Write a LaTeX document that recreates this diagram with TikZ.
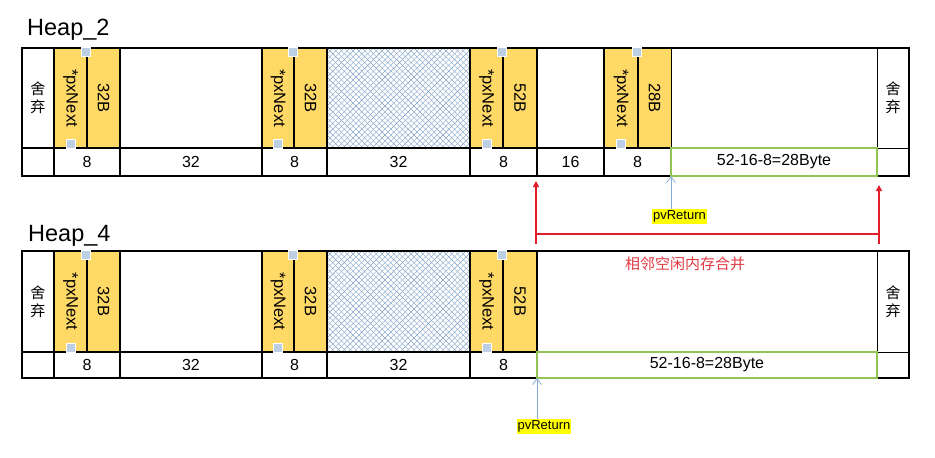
\documentclass[tikz,border=0pt]{standalone}
\usepackage{fontspec}
\setmainfont{Liberation Sans}
\newfontfamily\cjk{Noto Sans CJK SC}
\usetikzlibrary{arrows.meta}
\definecolor{yel}{RGB}{255,217,102}
\definecolor{sqblue}{RGB}{189,207,228}
\definecolor{hatchc}{RGB}{125,158,198}
\definecolor{grn}{RGB}{146,196,84}
\definecolor{redc}{RGB}{226,30,44}
\definecolor{redt}{RGB}{226,56,66}
\definecolor{arrblue}{RGB}{135,172,215}
\definecolor{hl}{RGB}{255,255,0}
\newcommand{\cellnode}[7][]{%
  \node[cellbase,#1,minimum width={(#5-#3)*1pt},minimum height={(#6-#4)*1pt}] (#2) at ({(#3+#5)/2},{(#4+#6)/2}) {#7};}
\newcommand{\xhatch}[1]{%
  \begin{scope}
    \clip (#1.south west) rectangle (#1.north east);
    \foreach \k in {-20,...,45}{%
      \draw[hatchline] ([xshift=\k*5.8pt]#1.north west) -- ++(110,110);
      \draw[hatchline] ([xshift=\k*5.8pt]#1.north west) -- ++(-110,110);}
  \end{scope}}
\tikzset{
  cellbase/.style={draw,inner sep=0pt,outer sep=0pt,line width=1.8pt,align=center,font=\fontsize{16}{18}\selectfont},
  thincell/.style={line width=0.8pt},
  yelcell/.style={fill=yel},
  hatchline/.style={draw=hatchc,line width=0.4pt},
  greencell/.style={draw=grn,line width=1.6pt},
  discard/.style={font=\cjk\fontsize{15}{18}\selectfont},
  vtext/.style={rotate=-90,inner sep=0pt,font=\fontsize{16.5}{18}\selectfont},
  sq/.style={fill=sqblue,draw=white,line width=0.7pt,minimum size=9pt,inner sep=0pt,outer sep=0pt},
  frame/.style={draw,line width=2.2pt},
  title/.style={font=\fontsize{23.5}{26}\selectfont,inner sep=0pt,anchor=base west},
  pvlab/.style={fill=hl,inner xsep=1pt,inner ysep=1.5pt,font=\fontsize{13}{15}\selectfont},
  bluearr/.style={draw=arrblue,line width=0.8pt,-{Straight Barb[length=6pt,width=9pt]}},
  redarr/.style={draw=redc,line width=2pt,-{Triangle[length=6pt,width=6pt]}},
  redline/.style={draw=redc,line width=2pt},
  redtxt/.style={text=redt,font=\cjk\fontsize{15}{18}\selectfont,inner sep=0pt}
}
\begin{document}
\begin{tikzpicture}[x=1pt,y=-1pt]
\useasboundingbox (0,0) rectangle (935,458);
% ================= Heap_2 =================
\node[title] (t1) at (27,35) {Heap\_2};
\cellnode[draw=none]{a-hbg}{327}{48}{470}{148}{}
\xhatch{a-hbg}
% top row
\cellnode[discard]{a-d1}{22}{48}{54}{148}{舍\\弃}
\cellnode[yelcell]{a-px1}{54}{48}{87}{148}{}
\cellnode[yelcell]{a-s1}{87}{48}{120}{148}{}
\cellnode{a-w1}{120}{48}{262}{148}{}
\cellnode[yelcell]{a-px2}{262}{48}{294}{148}{}
\cellnode[yelcell]{a-s2}{294}{48}{327}{148}{}
\cellnode{a-h1}{327}{48}{470}{148}{}
\cellnode[yelcell]{a-px3}{470}{48}{503}{148}{}
\cellnode[yelcell]{a-s3}{503}{48}{537}{148}{}
\cellnode{a-w2}{537}{48}{604}{148}{}
\cellnode[yelcell]{a-px4}{604}{48}{638}{148}{}
\cellnode[yelcell,thincell]{a-s4}{638}{48}{671}{148}{}
\cellnode[thincell]{a-w3}{671}{48}{877}{148}{}
\cellnode[thincell,discard]{a-d2}{877}{48}{909}{148}{舍\\弃}
% bottom row
\cellnode{a-e1}{22}{148}{54}{176}{}
\cellnode{a-n1}{54}{148}{120}{176}{8}
\cellnode{a-n2}{120}{148}{262}{176}{32}
\cellnode{a-n3}{262}{148}{327}{176}{8}
\cellnode{a-n4}{327}{148}{470}{176}{32}
\cellnode{a-n5}{470}{148}{537}{176}{8}
\cellnode{a-n6}{537}{148}{604}{176}{16}
\cellnode{a-n7}{604}{148}{671}{176}{8}
\cellnode[thincell]{a-e2}{877}{148}{909}{176}{}
\draw[frame] (a-d1.north west) rectangle (a-e2.south east);
\cellnode[greencell]{a-n8}{671}{148}{877}{176}{52-16-8=28Byte}
% vertical texts
\node[vtext] (a-v1) at (a-px1.center) {*pxNext};
\node[vtext] (a-v2) at (a-s1.center) {32B};
\node[vtext] (a-v3) at (a-px2.center) {*pxNext};
\node[vtext] (a-v4) at (a-s2.center) {32B};
\node[vtext] (a-v5) at (a-px3.center) {*pxNext};
\node[vtext] (a-v6) at (a-s3.center) {52B};
\node[vtext] (a-v7) at (a-px4.center) {*pxNext};
\node[vtext] (a-v8) at (a-s4.center) {28B};
% squares
\node[sq] (a-q1) at (86,52) {};
\node[sq] (a-q2) at (70.5,143.5) {};
\node[sq] (a-q3) at (293,52) {};
\node[sq] (a-q4) at (278,143.5) {};
\node[sq] (a-q5) at (502,52) {};
\node[sq] (a-q6) at (486.5,143.5) {};
\node[sq] (a-q7) at (637,52) {};
\node[sq] (a-q8) at (621,143.5) {};
% pvReturn
\node[pvlab] (pv1) at (679.5,216.5) {pvReturn};
\draw[bluearr] (pv1.north -| a-n8.south west) -- (a-n8.south west);
% ================= Heap_4 =================
\node[title] (t2) at (28,241) {Heap\_4};
\cellnode[draw=none]{b-hbg}{327}{251}{470}{352}{}
\xhatch{b-hbg}
\cellnode[discard]{b-d1}{22}{251}{54}{352}{舍\\弃}
\cellnode[yelcell]{b-px1}{54}{251}{87}{352}{}
\cellnode[yelcell]{b-s1}{87}{251}{120}{352}{}
\cellnode{b-w1}{120}{251}{262}{352}{}
\cellnode[yelcell]{b-px2}{262}{251}{294}{352}{}
\cellnode[yelcell]{b-s2}{294}{251}{327}{352}{}
\cellnode{b-h1}{327}{251}{470}{352}{}
\cellnode[yelcell]{b-px3}{470}{251}{503}{352}{}
\cellnode[yelcell]{b-s3}{503}{251}{537}{352}{}
\cellnode[thincell]{b-w2}{537}{251}{877}{352}{}
\cellnode[thincell,discard]{b-d2}{877}{251}{909}{352}{舍\\弃}
\cellnode{b-e1}{22}{352}{54}{378}{}
\cellnode{b-n1}{54}{352}{120}{378}{8}
\cellnode{b-n2}{120}{352}{262}{378}{32}
\cellnode{b-n3}{262}{352}{327}{378}{8}
\cellnode{b-n4}{327}{352}{470}{378}{32}
\cellnode{b-n5}{470}{352}{537}{378}{8}
\cellnode[thincell]{b-e2}{877}{352}{909}{378}{}
\draw[frame] (b-d1.north west) rectangle (b-e2.south east);
\cellnode[greencell]{b-n6}{537}{352}{877}{378}{52-16-8=28Byte}
\node[vtext] (b-v1) at (b-px1.center) {*pxNext};
\node[vtext] (b-v2) at (b-s1.center) {32B};
\node[vtext] (b-v3) at (b-px2.center) {*pxNext};
\node[vtext] (b-v4) at (b-s2.center) {32B};
\node[vtext] (b-v5) at (b-px3.center) {*pxNext};
\node[vtext] (b-v6) at (b-s3.center) {52B};
\node[sq] (b-q1) at (86,255) {};
\node[sq] (b-q2) at (70.5,347.5) {};
\node[sq] (b-q3) at (293,255) {};
\node[sq] (b-q4) at (278,347.5) {};
\node[sq] (b-q5) at (502,255) {};
\node[sq] (b-q6) at (486.5,347.5) {};
\node[redtxt] (merge) at (685,264) {相邻空闲内存合并};
\node[pvlab] (pv2) at (544,426.5) {pvReturn};
\draw[bluearr] (pv2.north -| b-n6.south west) -- (b-n6.south west);
% ================= merge arrows =================
\coordinate (rl) at (536,234);
\coordinate (rr) at (879,234);
\coordinate (rlb) at (536,244);
\coordinate (rrb) at (879,244);
\draw[redarr,shorten >=5pt] (rlb) -- (rlb |- a-n6.south west);
\draw[redarr,shorten >=9pt] (rrb) -- (rrb |- a-e2.south west);
\draw[redline] (rl) -- (rr);
\end{tikzpicture}
\end{document}
